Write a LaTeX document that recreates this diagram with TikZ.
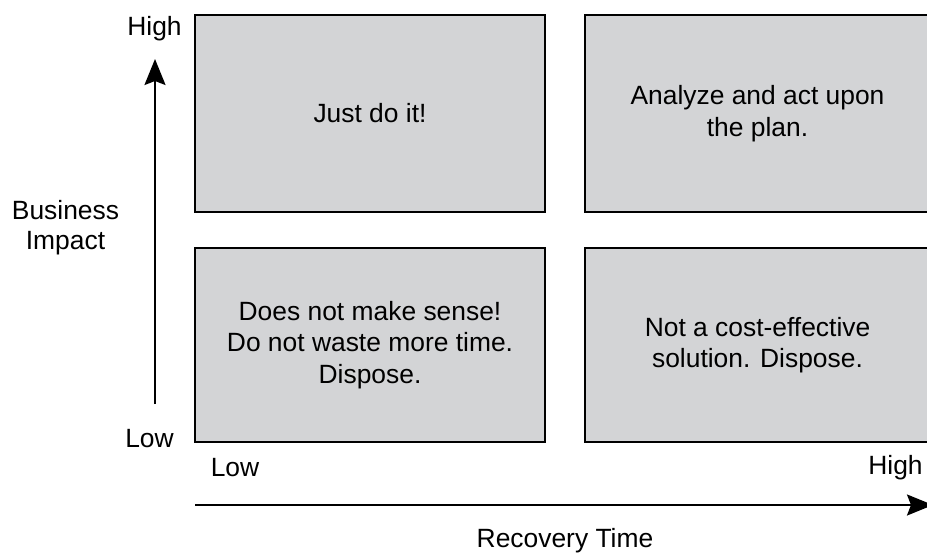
\documentclass[tikz,border=0pt]{standalone}
\usepackage{fontspec}
\setmainfont{Liberation Sans}
\usetikzlibrary{arrows.meta}
\definecolor{boxgray}{HTML}{D3D4D6}
\begin{document}
\begin{tikzpicture}[x=1pt,y=-1pt,
  quad/.style={draw=black, line width=2.2pt, fill=boxgray, inner sep=0pt, align=center,
    font=\fontsize{26.4}{31.5}\selectfont},
  qtext/.style={inner sep=0pt, align=center, font=\fontsize{26.4}{31.5}\selectfont},
  lbl/.style={inner sep=0pt, font=\fontsize{26.4}{30}\selectfont, align=center},
  axis/.style={line width=2pt, -{Stealth[length=26pt,width=21pt,inset=4pt]}}]
\useasboundingbox (0,0) rectangle (927,552);
\node[quad, minimum width=350pt, minimum height=197pt] (tl) at (370,113.5) {Just do it!};
\node[quad, minimum width=360pt, minimum height=197pt] (tr) at (765,113.5) {};
\node[qtext] (trt) at (757.5,113.5) {Analyze and act upon\\the plan.};
\node[quad, minimum width=350pt, minimum height=194pt] (bl) at (370,345) {Does not make sense!\\Do not waste more time.\\Dispose.};
\node[quad, minimum width=360pt, minimum height=194pt] (br) at (765,345) {};
\node[qtext] (brt) at (757.5,345) {Not a cost-effective\\solution. Dispose.};
\coordinate (vs) at (155,404);
\coordinate (ve) at (155,59);
\coordinate (hs) at (195,505);
\coordinate (he) at (933,505);
\draw[axis] (vs) -- (ve);
\draw[axis] (hs) -- (he);
\node[lbl, anchor=base] (yhigh) at (154.5,35) {High};
\node[lbl, anchor=base] (ylow) at (149.5,447) {Low};
\node[lbl, anchor=base] (xlow) at (235,476) {Low};
\node[lbl, anchor=base] (xhigh) at (895.5,474) {High};
\node[lbl] (ytitle) at (65.5,228) {Business\\Impact};
\node[lbl, anchor=base] (xtitle) at (565,547) {Recovery Time};
\end{tikzpicture}
\end{document}
